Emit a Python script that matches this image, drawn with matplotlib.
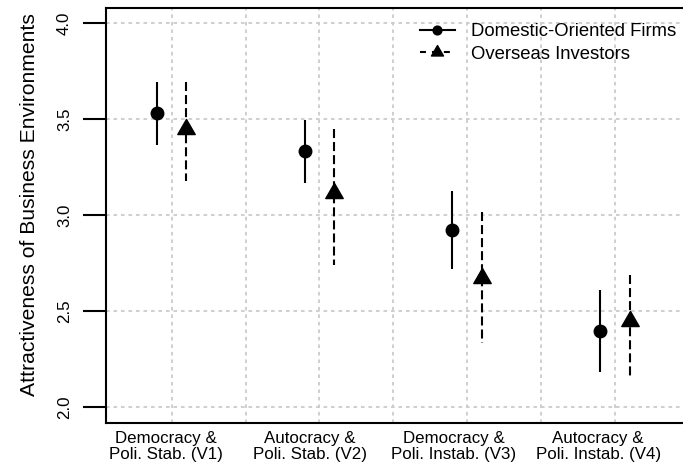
import numpy as np
import matplotlib
matplotlib.use("Agg")
import matplotlib.pyplot as plt
from matplotlib.path import Path
from matplotlib.lines import Line2D

plt.rcParams["font.family"] = ["Liberation Sans", "DejaVu Sans"]
plt.rcParams["lines.scale_dashes"] = False

# ---- data -------------------------------------------------------------
categories = [
    "Democracy &\nPoli. Stab. (V1)",
    "Autocracy &\nPoli. Stab. (V2)",
    "Democracy &\nPoli. Instab. (V3)",
    "Autocracy &\nPoli. Instab. (V4)",
]
series_names = ["Domestic-Oriented Firms", "Overseas Investors"]

domestic_mean = [3.530, 3.332, 2.924, 2.399]
domestic_low = [3.365, 3.167, 2.720, 2.182]
domestic_high = [3.692, 3.497, 3.127, 2.611]

overseas_mean = [3.448, 3.115, 2.675, 2.447]
overseas_low = [3.175, 2.742, 2.336, 2.165]
overseas_high = [3.695, 3.450, 3.018, 2.690]

y_ticks = [2.0, 2.5, 3.0, 3.5, 4.0]
y_label = "Attractiveness of Business Environments"

# ---- styling ----------------------------------------------------------
W, H = 683, 465
fig = plt.figure(figsize=(W / 100, H / 100), dpi=100)
ax = fig.add_axes([106 / W, 42.3 / H, 583 / W, 415.2 / H])

x = np.arange(1, len(categories) + 1)
offset = 0.1
dash = (0, (6.5, 2.9))

# triangle with its centroid at the origin
tri = Path([(0, 1.555), (1.347, -0.778), (-1.347, -0.778), (0, 1.555)],
           [Path.MOVETO, Path.LINETO, Path.LINETO, Path.CLOSEPOLY])

for i in range(len(categories)):
    ax.plot([x[i] - offset] * 2, [domestic_high[i], domestic_low[i]],
            color="black", lw=1.5, solid_capstyle="butt", zorder=3)
    ax.plot([x[i] + offset] * 2, [overseas_high[i], overseas_low[i]],
            color="black", lw=1.5, linestyle=dash, dash_capstyle="butt", zorder=3)

ax.plot(x - offset, domestic_mean, linestyle="none", marker="o", ms=9,
        color="black", zorder=4)
ax.plot(x + offset, overseas_mean, linestyle="none", marker=tri, ms=14.5,
        color="black", zorder=4)

ax.set_xlim(0.556, 4.444)
ax.set_ylim(1.92, 4.08)

# grid
grid_kw = dict(color="#cccccc", lw=1.3, linestyle=(0, (2.6, 2.8)))
ax.set_xticks(np.arange(1, 4.51, 0.5), minor=True)
ax.xaxis.grid(True, which="minor", **grid_kw)
ax.set_yticks(y_ticks)
ax.yaxis.grid(True, which="major", **grid_kw)
ax.set_axisbelow(True)

# axes ticks and labels
ax.set_yticklabels([f"{v:.1f}" for v in y_ticks], rotation=90, va="center",
                   fontsize=12.2)
ax.tick_params(axis="y", which="major", length=16.5, width=1.5, pad=8,
               direction="out")
label_pos = x - 0.04 - 0.025 * np.arange(len(categories))
ax.set_xticks(label_pos)
ax.set_xticklabels(categories, fontsize=12.2, linespacing=1.1,
                   multialignment="center")
ax.tick_params(axis="x", which="both", length=0, pad=6)

for s in ax.spines.values():
    s.set_linewidth(1.5)

fig.text(30 / W, 1 - 205 / H, y_label, rotation=90, ha="center",
         va="center", fontsize=15.2)

handles = [
    Line2D([], [], color="black", lw=1.5, marker="o", ms=6.3),
    Line2D([], [], color="black", lw=1.5, linestyle=(0, (4.3, 4.3)),
           marker=tri, ms=10),
]
fig.legend(handles, series_names, loc="upper left",
           bbox_to_anchor=(420 / W, 1 - 23 / H), frameon=False,
           fontsize=13.3, handlelength=1.89, handletextpad=0.86,
           borderpad=0, borderaxespad=0, labelspacing=0.3)

fig.savefig("out.png", dpi=100)
